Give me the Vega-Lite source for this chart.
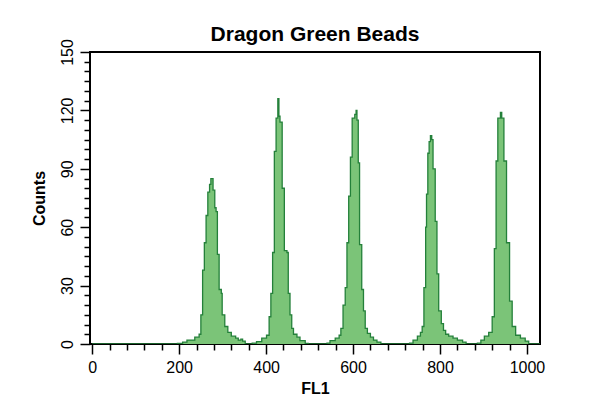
{
  "$schema": "https://vega.github.io/schema/vega-lite/v6.json",
  "width": 450,
  "height": 292,
  "autosize": "none",
  "padding": {"left": 90, "top": 52, "right": 49, "bottom": 58},
  "background": "white",
  "config": {
    "view": {"stroke": "black", "strokeWidth": 2},
    "font": "Liberation Sans, Arial, sans-serif"
  },
  "title": {
    "text": "Dragon Green Beads",
    "fontSize": 21,
    "fontWeight": "bold",
    "font": "Liberation Sans, Arial, sans-serif",
    "color": "black",
    "anchor": "middle",
    "offset": -6
  },
  "data": {
    "values": [
      {"fl1": 0, "count": 0},
      {"fl1": 196, "count": 0.3}, {"fl1": 208, "count": 1}, {"fl1": 218, "count": 2}, {"fl1": 236, "count": 3.5}, {"fl1": 246, "count": 5}, {"fl1": 250, "count": 15}, {"fl1": 254, "count": 38}, {"fl1": 258, "count": 52}, {"fl1": 262, "count": 66}, {"fl1": 266, "count": 78}, {"fl1": 270, "count": 82}, {"fl1": 273, "count": 85}, {"fl1": 278, "count": 79}, {"fl1": 282, "count": 70}, {"fl1": 285, "count": 68}, {"fl1": 288, "count": 46}, {"fl1": 292, "count": 28}, {"fl1": 297, "count": 26}, {"fl1": 299, "count": 15}, {"fl1": 305, "count": 9}, {"fl1": 312, "count": 6}, {"fl1": 320, "count": 4}, {"fl1": 330, "count": 3}, {"fl1": 336, "count": 2}, {"fl1": 342, "count": 2.5}, {"fl1": 346, "count": 1.5}, {"fl1": 352, "count": 0},
      {"fl1": 368, "count": 0.5}, {"fl1": 378, "count": 1.2}, {"fl1": 390, "count": 3}, {"fl1": 401, "count": 4.5}, {"fl1": 407, "count": 14}, {"fl1": 411, "count": 26}, {"fl1": 415, "count": 47}, {"fl1": 419, "count": 99}, {"fl1": 423, "count": 116}, {"fl1": 427, "count": 126}, {"fl1": 429.5, "count": 117}, {"fl1": 432, "count": 114}, {"fl1": 437, "count": 80}, {"fl1": 442, "count": 48}, {"fl1": 448, "count": 47}, {"fl1": 451, "count": 26}, {"fl1": 455, "count": 15}, {"fl1": 459, "count": 8}, {"fl1": 463, "count": 5}, {"fl1": 471, "count": 3.5}, {"fl1": 478, "count": 1.7}, {"fl1": 490, "count": 0.3}, {"fl1": 497, "count": 0},
      {"fl1": 540, "count": 0.5}, {"fl1": 547, "count": 1.7}, {"fl1": 559, "count": 3}, {"fl1": 568, "count": 4.5}, {"fl1": 572, "count": 8}, {"fl1": 577, "count": 20}, {"fl1": 582, "count": 29}, {"fl1": 586, "count": 52}, {"fl1": 590, "count": 76}, {"fl1": 594, "count": 96}, {"fl1": 598, "count": 116}, {"fl1": 604, "count": 118}, {"fl1": 607, "count": 120}, {"fl1": 609, "count": 115}, {"fl1": 612, "count": 93}, {"fl1": 615, "count": 51}, {"fl1": 620, "count": 28}, {"fl1": 624, "count": 17}, {"fl1": 628, "count": 8}, {"fl1": 633, "count": 5.5}, {"fl1": 640, "count": 3.5}, {"fl1": 647, "count": 2}, {"fl1": 655, "count": 1}, {"fl1": 664, "count": 0},
      {"fl1": 730, "count": 0.5}, {"fl1": 738, "count": 2}, {"fl1": 748, "count": 4}, {"fl1": 755, "count": 6}, {"fl1": 759, "count": 9}, {"fl1": 763, "count": 29}, {"fl1": 767, "count": 60}, {"fl1": 769, "count": 77}, {"fl1": 772, "count": 98}, {"fl1": 775, "count": 104}, {"fl1": 778, "count": 107}, {"fl1": 781, "count": 105}, {"fl1": 784, "count": 90}, {"fl1": 789, "count": 63}, {"fl1": 793, "count": 36}, {"fl1": 797, "count": 17}, {"fl1": 803, "count": 10.5}, {"fl1": 808, "count": 7}, {"fl1": 813, "count": 5}, {"fl1": 820, "count": 4}, {"fl1": 830, "count": 3}, {"fl1": 840, "count": 2}, {"fl1": 852, "count": 1}, {"fl1": 860, "count": 0},
      {"fl1": 886, "count": 0.5}, {"fl1": 894, "count": 2}, {"fl1": 902, "count": 4}, {"fl1": 912, "count": 6}, {"fl1": 920, "count": 14}, {"fl1": 925, "count": 49}, {"fl1": 929, "count": 94}, {"fl1": 933, "count": 116}, {"fl1": 939, "count": 119}, {"fl1": 942, "count": 116}, {"fl1": 947, "count": 94}, {"fl1": 953, "count": 52}, {"fl1": 960, "count": 22}, {"fl1": 966, "count": 9}, {"fl1": 974, "count": 4.5}, {"fl1": 985, "count": 3}, {"fl1": 996, "count": 1.5}, {"fl1": 1004, "count": 0},
      {"fl1": 1030, "count": 0}
    ]
  },
  "mark": {
    "type": "area",
    "interpolate": "step-after",
    "color": "#7bc478",
    "opacity": 1,
    "clip": true,
    "line": {"color": "#24803a", "strokeWidth": 1.3}
  },
  "encoding": {
    "x": {
      "field": "fl1",
      "type": "quantitative",
      "scale": {"domain": [-5, 1030], "nice": false, "zero": false},
      "axis": {
        "title": "FL1",
        "titleFontSize": 16,
        "titleFontWeight": "bold",
        "titleColor": "black",
        "titlePadding": 5,
        "values": [0, 40, 80, 120, 160, 200, 240, 280, 320, 360, 400, 440, 480, 520, 560, 600, 640, 680, 720, 760, 800, 840, 880, 920, 960, 1000],
        "labelExpr": "datum.value % 200 === 0 ? datum.label : ''",
        "format": "d",
        "labelFontSize": 16,
        "labelColor": "black",
        "labelPadding": 5,
        "domain": false,
        "grid": false,
        "tickColor": "black",
        "tickWidth": 1.5,
        "tickSize": {"condition": {"test": "datum.value % 200 === 0", "value": 10}, "value": 6},
        "labelFlush": false,
        "labelOverlap": false
      }
    },
    "y": {
      "field": "count",
      "type": "quantitative",
      "scale": {"domain": [0, 150], "nice": false},
      "axis": {
        "title": "Counts",
        "titleFontSize": 16,
        "titleFontWeight": "bold",
        "titleColor": "black",
        "titlePadding": 12,
        "values": [0, 5, 10, 15, 20, 25, 30, 35, 40, 45, 50, 55, 60, 65, 70, 75, 80, 85, 90, 95, 100, 105, 110, 115, 120, 125, 130, 135, 140, 145, 150],
        "labelExpr": "datum.value % 30 === 0 ? datum.label : ''",
        "labelFontSize": 16,
        "labelColor": "black",
        "labelAngle": -90,
        "labelAlign": "center",
        "labelBaseline": "bottom",
        "labelPadding": 5,
        "domain": false,
        "grid": false,
        "tickColor": "black",
        "tickWidth": 1.5,
        "tickSize": {"condition": {"test": "datum.value % 30 === 0", "value": 10}, "value": 6},
        "labelFlush": false,
        "labelOverlap": false
      }
    }
  }
}
